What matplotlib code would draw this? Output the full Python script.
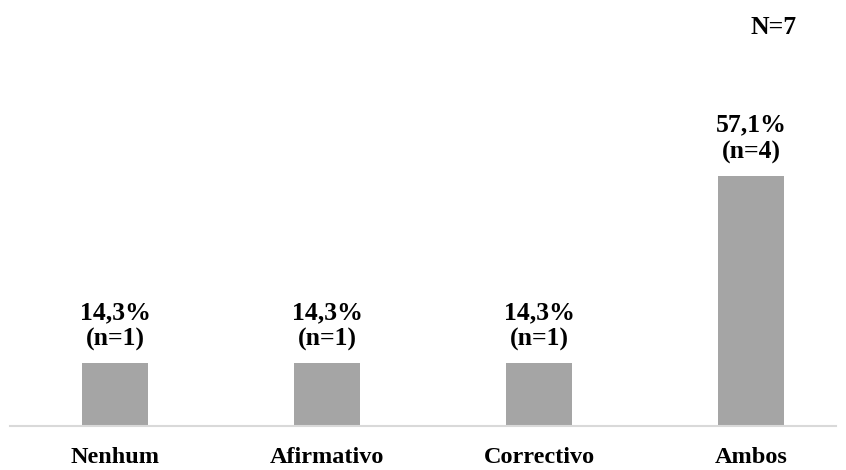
import matplotlib.pyplot as plt

categories = ["Nenhum", "Afirmativo", "Correctivo", "Ambos"]
percent = [14.3, 14.3, 14.3, 57.1]
counts = [1, 1, 1, 4]
total_n = 7

BAR_COLOUR = "#A5A5A5"
AXIS_COLOUR = "#D9D9D9"

plt.rcParams["font.family"] = ["Liberation Serif", "DejaVu Serif"]
plt.rcParams["font.weight"] = "bold"

fig = plt.figure(figsize=(8.46, 4.70), dpi=100)
ax = fig.add_axes([10 / 846, 44 / 470, 826 / 846, 350 / 470])

x = range(len(categories))
bars = ax.bar(x, percent, width=0.31, color=BAR_COLOUR)

for rect, p, n in zip(bars, percent, counts):
    label = "{}%\n(n={})".format(str(p).replace(".", ","), n)
    ax.annotate(label, (rect.get_x() + rect.get_width() / 2, rect.get_height()),
                xytext=(0, 9), textcoords="offset points",
                ha="center", va="bottom", fontsize=18.5, fontweight="bold",
                linespacing=1.2)

ax.set_xlim(-0.495, 3.40)
ax.set_ylim(0, 80)
ax.set_xticks(list(x))
ax.set_xticklabels(categories, fontsize=17.5, fontweight="bold")
ax.tick_params(axis="x", length=0, pad=15)
ax.set_yticks([])
for side in ["top", "right", "left"]:
    ax.spines[side].set_visible(False)
ax.spines["bottom"].set_color(AXIS_COLOUR)
ax.spines["bottom"].set_linewidth(1.5)

fig.text(774 / 846, 1 - 27 / 470, "N={}".format(total_n), ha="center", va="center",
         fontsize=18.5, fontweight="bold")

fig.savefig("out.png", dpi=100)
